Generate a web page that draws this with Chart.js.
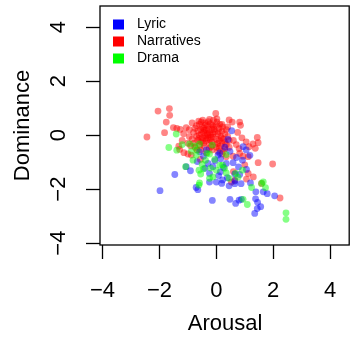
<!DOCTYPE html>
<html>
<head>
<meta charset="utf-8">
<script src="https://cdn.jsdelivr.net/npm/chart.js@4"></script>
<style>
  html, body { margin: 0; padding: 0; background: #fff; }
  #wrap { width: 350px; height: 341px; }
</style>
</head>
<body>
<div id="wrap"><canvas id="myChart"></canvas></div>
<script>
const seriesNames = ['Lyric', 'Narratives', 'Drama'];

const lyricX = [-1.98, -1.46, -0.91, -1.06, -0.71, -0.65, -0.14, -0.24, 0.0, 0.19, 0.45, 0.65, 0.87, 1.2, 1.39, 1.65, 1.79, 2.05, 1.38, 1.45, 1.56, 1.44, 1.35, 0.48, 0.68, 0.8, 0.88, 0.54, 0.41, 0.94, 1.18, 1.06, 0.92, 0.71, 0.59, 0.35, 0.39, 0.65, 0.82, 0.14, -0.24, -0.4, -0.29, -0.45, 0.06, 0.12, -0.59, -0.12, 0.08, -0.67, 0.22, 0.65, 0.3, 0.48, -0.05, 0.25, 1.05, 0.78, -0.35, 0.15];
const lyricY = [-2.06, -1.46, -1.32, -1.17, -1.94, -2.02, -2.42, -1.74, -1.74, -1.79, -1.88, -1.8, -1.8, -1.77, -2.1, -2.1, -2.17, -2.25, -2.36, -2.49, -2.65, -2.72, -2.9, -2.38, -2.53, -2.41, -2.38, 0.16, -0.16, -0.43, -0.75, -1.27, -0.93, -0.83, -1.02, -1.05, -1.58, -1.44, -1.46, -1.36, -1.42, -1.23, -1.05, -0.78, -0.74, -0.66, -0.62, -1.17, -1.5, -0.98, -1.66, -1.7, -0.45, -0.6, -0.95, -1.2, -0.55, -1.18, -0.55, -0.88];

const narrX = [-2.05, -1.65, -1.64, -1.76, -2.44, -1.82, -1.51, -1.39, -1.27, -1.06, -1.32, -1.29, -1.14, -1.0, -0.88, -0.56, -0.02, 0.02, -0.24, -0.53, 0.45, 0.56, 0.82, 0.85, 1.44, 1.47, 1.29, 1.37, 1.15, 1.47, 1.98, 2.24, 1.12, 1.06, 1.59, 0.65, 0.53, 0.82, 0.94, 1.12, 0.59, 0.35, 0.7, 0.6, 0.9, 1.05, 0.75, 0.4, 0.2, -0.85, -0.95, -1.15, -1.2, -0.75, -0.55, -0.35, -0.15, 0.1, 0.25, 0.45, 0.6, 1.3, 1.0, 0.8,
  -0.7, -0.6, -0.5, -0.4, -0.3, -0.2, -0.1, 0.0, 0.1, 0.2, 0.3, -0.65, -0.55, -0.45, -0.35, -0.25, -0.15, -0.05, 0.05, 0.15, 0.25, -0.7, -0.6, -0.5, -0.4, -0.3, -0.2, -0.1, 0.0, 0.1, 0.2, 0.3, -0.65, -0.55, -0.45, -0.35, -0.25, -0.15, -0.05, 0.05, 0.15, 0.35, -0.8, -0.85, -0.75, -0.45, -0.32, -0.12, -0.22, -0.38, -0.28, -0.58, -0.42, -0.18, 0.02, 0.12, 0.22, 0.35, 0.4, 0.45, -0.95, -1.0, -0.9, -0.78, -0.68, -0.25, 0.05, 0.2, 0.3, -0.1, -0.48, -0.62, -0.52, -0.42, -0.28, -0.08, 0.08, -0.18, -0.38, 0.0, -0.62, -0.48, -0.3, -0.14, 0.18];
const narrY = [0.89, 0.98, 0.73, 0.48, -0.07, 0.09, 0.28, 0.25, 0.21, 0.28, -0.41, -0.53, -0.65, -0.7, -0.74, -0.9, 0.8, 0.6, 0.58, 0.49, 0.56, 0.48, 0.48, 0.36, -0.09, -0.28, -0.33, -0.49, -0.43, -1.02, -1.07, -2.33, -1.42, -1.63, -1.79, -1.67, -1.74, -0.68, -0.78, -0.8, -0.78, -0.8, -0.35, -0.2, -0.1, -0.25, 0.1, 0.3, 0.4, 0.45, 0.2, 0.05, -0.2, -0.45, -0.55, -0.65, -0.55, -0.5, -0.6, -0.45, -1.35, -1.55, -1.1, -0.5,
  0.35, 0.4, 0.3, 0.45, 0.35, 0.42, 0.3, 0.35, 0.25, 0.15, 0.05, 0.15, 0.2, 0.1, 0.2, 0.1, 0.2, 0.12, 0.05, -0.05, -0.15, -0.05, 0.0, -0.1, -0.02, -0.1, 0.0, -0.08, -0.15, -0.2, -0.3, -0.25, -0.2, -0.25, -0.3, -0.2, -0.3, -0.25, -0.35, -0.3, -0.4, -0.35, 0.1, -0.15, 0.25, 0.25, 0.05, 0.05, -0.18, 0.38, 0.5, -0.38, -0.42, -0.42, 0.48, 0.4, 0.3, 0.2, -0.05, -0.2, -0.05, -0.3, -0.4, -0.3, -0.55, -0.5, -0.6, -0.7, -0.5, 0.55, 0.55, 0.52, 0.05, 0.18, 0.22, 0.22, 0.12, -0.08, -0.12, -0.45, -0.12, -0.2, 0.0, 0.36, -0.1];

const dramaX = [-1.41, -1.67, -1.39, -0.94, -0.76, -0.59, -0.82, -1.08, -0.61, -0.55, -0.59, -0.61, -0.24, -0.14, -0.24, -0.06, 0.12, 0.29, 0.0, 0.35, 0.68, 0.76, 0.92, 1.24, 1.59, 1.65, 1.73, 1.09, 0.94, 2.45, 2.45, -0.7, -0.38, -0.33, -0.45, 0.22, -0.2, -0.68, -0.5, -0.88, 0.45, -0.12, 0.35, -1.2];
const dramaY = [0.04, -0.46, -0.56, -0.33, -0.4, -0.33, -0.93, -1.17, -1.3, -1.44, -1.77, -1.85, -1.6, -0.37, -0.7, -0.9, -1.11, -1.23, -1.3, -1.4, -1.42, -1.56, -1.3, -1.94, -1.79, -1.73, -1.95, -2.57, -2.38, -2.88, -3.12, -0.75, -0.93, -0.68, -1.25, -1.11, -1.22, -0.55, -1.08, -0.6, -1.6, -1.55, -0.72, -0.35];

const xTickValues = [-4, -2, 0, 2, 4];
const xTickLabels = ['\u22124', '\u22122', '0', '2', '4'];
const yTickValues = [-4, -2, 0, 2, 4];
const yTickLabels = ['\u22124', '\u22122', '0', '2', '4'];

const pts = (xs, ys) => xs.map((x, i) => ({ x: x, y: ys[i] }));
const FONT = 'Liberation Sans, Arial, Helvetica, sans-serif';

// box round the plot region plus the legend in the top left corner
const boxAndLegend = {
  id: 'boxAndLegend',
  afterDraw(chart) {
    const { ctx, chartArea: a } = chart;
    ctx.save();
    ctx.strokeStyle = '#000';
    ctx.lineWidth = 1.3;
    ctx.strokeRect(a.left, a.top, a.right - a.left - 0.8, a.bottom - a.top);

    ctx.font = '14px ' + FONT;
    ctx.textBaseline = 'middle';
    ctx.textAlign = 'left';
    chart.data.datasets.forEach((ds, i) => {
      const y = 24 + i * 17;
      ctx.fillStyle = ds.legendColor;
      ctx.fillRect(113, y - 4.5, 11, 10);
      ctx.fillStyle = '#000';
      ctx.fillText(ds.label, 137, y + 0.5);
    });
    ctx.restore();
  }
};

const ctx = document.getElementById('myChart');

new Chart(ctx, {
  type: 'scatter',
  data: {
    datasets: [
      { label: seriesNames[0], data: pts(lyricX, lyricY), backgroundColor: 'rgba(0,0,255,0.48)', legendColor: '#0000ff', order: 1 },
      { label: seriesNames[1], data: pts(narrX, narrY), backgroundColor: 'rgba(255,0,0,0.48)', legendColor: '#ff0000', order: 2 },
      { label: seriesNames[2], data: pts(dramaX, dramaY), backgroundColor: 'rgba(0,255,0,0.48)', legendColor: '#00ff00', order: 0 }
    ]
  },
  options: {
    responsive: true,
    maintainAspectRatio: false,
    animation: false,
    layout: { autoPadding: false, padding: { top: 6, left: 0, right: 0, bottom: 0 } },
    elements: { point: { radius: 3.4, borderWidth: 0, hoverRadius: 3.4 } },
    plugins: { legend: { display: false }, tooltip: { enabled: false } },
    scales: {
      x: {
        type: 'linear',
        min: -4.09,
        max: 4.7,
        afterFit: s => { s.height = 96; s.paddingLeft = 0; s.paddingRight = 0; },
        border: { display: false },
        grid: { drawOnChartArea: false, tickLength: 14, tickColor: '#000', tickWidth: 1.3 },
        ticks: {
          stepSize: 2,
          includeBounds: false,
          maxRotation: 0,
          padding: 19,
          color: '#000',
          font: { family: FONT, size: 22 },
          callback: v => { const i = xTickValues.indexOf(v); return i >= 0 ? xTickLabels[i] : ''; }
        },
        title: { display: true, text: 'Arousal', color: '#000', font: { family: FONT, size: 22 }, padding: { top: 0, bottom: 4 } }
      },
      y: {
        type: 'linear',
        min: -4.07,
        max: 4.78,
        afterFit: s => { s.width = 100; s.paddingTop = 0; s.paddingBottom = 0; },
        border: { display: false },
        grid: { drawOnChartArea: false, tickLength: 14, tickColor: '#000', tickWidth: 1.3 },
        ticks: {
          stepSize: 2,
          includeBounds: false,
          minRotation: 90,
          maxRotation: 90,
          crossAlign: 'center',
          padding: 15,
          color: '#000',
          font: { family: FONT, size: 22 },
          callback: v => { const i = yTickValues.indexOf(v); return i >= 0 ? yTickLabels[i] : ''; }
        },
        title: { display: true, text: 'Dominance', color: '#000', font: { family: FONT, size: 22 }, padding: { top: 10, bottom: 0 } }
      }
    }
  },
  plugins: [boxAndLegend]
});
</script>
</body>
</html>
